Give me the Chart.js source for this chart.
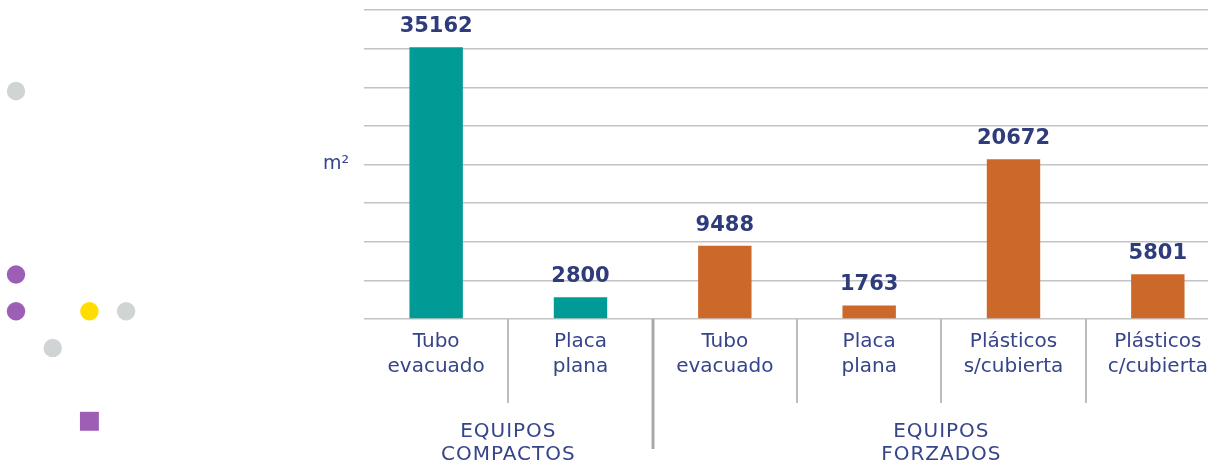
<!DOCTYPE html>
<html>
<head>
<meta charset="utf-8">
<script src="https://cdn.jsdelivr.net/npm/chart.js@4"></script>
<style>
  html,body{margin:0;padding:0;background:#fff;overflow:hidden;width:1208px;height:470px;}
  #wrap{position:absolute;left:0;top:0;width:1230px;height:470px;}
  #dotsWrap{position:absolute;left:0;top:0;width:220px;height:470px;}
</style>
</head>
<body>
<div id="wrap"><canvas id="c"></canvas></div>
<div id="dotsWrap"><canvas id="d"></canvas></div>
<script>
// ---- data ----
const categories = [["Tubo","evacuado"],["Placa","plana"],["Tubo","evacuado"],["Placa","plana"],["Plásticos","s/cubierta"],["Plásticos","c/cubierta"]];
const values = [35162, 2800, 9488, 1763, 20672, 5801];
const groupNames = [["EQUIPOS","COMPACTOS"],["EQUIPOS","FORZADOS"]];
const groupSizes = [2, 4];
const yUnitLabel = "m²";
const yMax = 40000;
const yStep = 5000;
// decorative dots (grid units)
const dotX = [0, 0, 0, 2, 3, 1, 2];
const dotY = [0, 5, 6, 6, 6, 7, 9];
const dotColors = ["#d1d4d4","#9d5fb5","#9d5fb5","#ffdd00","#d1d4d4","#d1d4d4","#9d5fb5"];
const dotShapes = ["circle","circle","circle","circle","circle","circle","rect"];

const TEAL = "#009b94", ORANGE = "#cc6829";
const barColors = values.map((v,i)=> i < groupSizes[0] ? TEAL : ORANGE);
const TXT = "#36458a", VAL = "#2f3c7c";
const FONT = "'DejaVu Sans', sans-serif";

const overlay = {
  id: 'overlay',
  afterDraw(chart){
    const ctx = chart.ctx, xs = chart.scales.x, ys = chart.scales.y, ca = chart.chartArea;
    const meta = chart.getDatasetMeta(0);
    const w = xs.getPixelForValue(1) - xs.getPixelForValue(0);
    ctx.save();
    // unit label
    ctx.font = "19px " + FONT;
    ctx.fillStyle = TXT;
    ctx.textAlign = "right";
    ctx.textBaseline = "middle";
    ctx.fillText(yUnitLabel, ca.left - 15, ys.getPixelForValue(yMax/2));
    // value labels
    ctx.font = "bold 21px " + FONT;
    ctx.fillStyle = VAL;
    ctx.textAlign = "center";
    ctx.textBaseline = "bottom";
    meta.data.forEach((bar,i)=>{
      ctx.fillText(String(values[i]), bar.x, bar.y - 10);
    });
    // separators
    let groupEnds = [];
    let acc = 0;
    groupSizes.forEach(s=>{acc += s; groupEnds.push(acc);});
    for (let i = 1; i < categories.length; i++){
      const xp = Math.round(xs.getPixelForValue(i) - w/2);
      const isGroup = groupEnds.includes(i);
      ctx.beginPath();
      ctx.strokeStyle = isGroup ? "#a8aaa9" : "#bcbcbc";
      ctx.lineWidth = isGroup ? 3 : 2;
      ctx.moveTo(xp, ca.bottom);
      ctx.lineTo(xp, isGroup ? ca.bottom + 130 : ca.bottom + 84);
      ctx.stroke();
    }
    // group labels
    ctx.font = "20px " + FONT;
    ctx.fillStyle = TXT;
    ctx.textBaseline = "middle";
    if ('letterSpacing' in ctx) ctx.letterSpacing = "1px";
    let start = 0;
    groupSizes.forEach((s,g)=>{
      const cx = (xs.getPixelForValue(start) + xs.getPixelForValue(start + s - 1))/2;
      groupNames[g].forEach((line,li)=>{
        ctx.fillText(line, cx, ca.bottom + 113 + li*23);
      });
      start += s;
    });
    ctx.restore();
  }
};

new Chart(document.getElementById('c'), {
  type: 'bar',
  data: {
    labels: categories,
    datasets: [{ data: values, backgroundColor: barColors, barPercentage: 0.37, categoryPercentage: 1.0 }]
  },
  options: {
    responsive: true,
    maintainAspectRatio: false,
    animation: false,
    layout: { padding: { top: 10, left: 0, right: 0, bottom: 0 }, autoPadding: false },
    plugins: { legend: { display: false }, tooltip: { enabled: false } },
    scales: {
      x: {
        grid: { display: false, drawTicks: false },
        border: { display: false },
        ticks: { color: TXT, font: { family: FONT, size: 20, lineHeight: 1.25 }, padding: 10, maxRotation: 0, autoSkip: false },
        afterFit(s){ s.height = 151; }
      },
      y: {
        min: 0, max: yMax,
        grid: { color: "#c3c3c3", lineWidth: 1.5, drawTicks: false },
        border: { display: false },
        ticks: { stepSize: yStep, display: false },
        afterFit(s){ s.width = 364; }
      }
    }
  },
  plugins: [overlay]
});

// decorative dots
const unit = 36.7;
new Chart(document.getElementById('d'), {
  type: 'scatter',
  data: {
    datasets: [{
      data: dotX.map((x,i)=>({x, y: dotY[i]})),
      pointBackgroundColor: dotColors,
      pointBorderWidth: 0,
      pointRadius: dotShapes.map(s => s === 'rect' ? 13.4 : 9.2),
      pointStyle: dotShapes,
      clip: false
    }]
  },
  options: {
    responsive: true, maintainAspectRatio: false, animation: false,
    layout: { padding: 0, autoPadding: false },
    plugins: { legend: { display: false }, tooltip: { enabled: false } },
    scales: {
      x: { display: false, min: -16/unit, max: -16/unit + 220/unit },
      y: { display: false, reverse: true, min: -91/unit, max: -91/unit + 470/unit }
    }
  }
});
</script>
</body>
</html>
